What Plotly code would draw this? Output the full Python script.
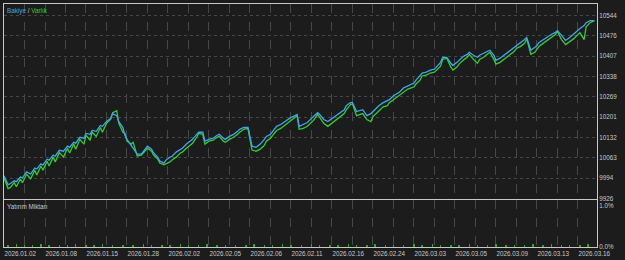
import plotly.graph_objects as go

# ---- data ----
deals = [0, 2, 3, 5, 6, 8, 9, 11, 13, 15, 16, 18, 19, 21, 22, 24, 25, 27, 29, 31, 32, 34, 35, 37, 39,
         40, 42, 43, 45, 47, 48, 50, 52, 53, 55,
         56, 58, 59, 60, 62, 63, 65, 67, 69, 70, 72, 73, 75, 76, 78,
         79, 81, 82, 84, 86, 87, 89, 91, 92, 94, 95, 97, 98,
         100, 102, 104, 105, 107, 108, 110, 112, 114, 115, 117, 119,
         120, 121, 123, 125, 127, 128, 130, 132, 133, 135, 137, 138, 140, 141, 143,
         144, 146, 148, 149, 151, 153, 154, 156, 158, 160, 162, 164, 166, 167, 169, 170,
         172, 175, 177, 179, 180, 182, 183, 185, 187, 188, 190, 192, 193, 195, 197, 200, 201, 203,
         204, 206, 208, 210, 211, 213, 214, 216,
         218, 219, 221, 222, 224, 226, 227, 229, 231, 232, 234, 236, 237,
         239, 240, 242, 244, 245, 247, 249, 250, 252, 254, 255,
         257, 259, 260, 261, 263, 265, 267, 269, 270,
         272, 274, 276, 278, 280, 281, 283, 284, 286, 288]

balance = [10003, 9973, 9976, 9986, 9983, 9999, 9996, 10016, 10009, 10029, 10026, 10043, 10039, 10059,
           10056, 10073, 10069, 10089, 10086, 10103, 10099, 10116, 10113, 10133, 10130, 10146, 10143,
           10156, 10153, 10173, 10170, 10186, 10196, 10213, 10206,
           10186, 10166, 10140, 10126, 10106, 10093, 10076, 10076, 10093, 10103, 10093, 10080, 10066,
           10053, 10046,
           10056, 10066, 10069, 10083, 10093, 10096, 10110, 10120, 10126, 10143, 10150, 10150, 10120,
           10126, 10130, 10140, 10143, 10130, 10126, 10136, 10143, 10153, 10160, 10166, 10166,
           10136, 10103, 10099, 10110, 10126, 10136, 10143, 10160, 10170, 10176, 10186, 10193, 10200,
           10203, 10210,
           10170, 10176, 10183, 10190, 10203, 10216, 10210, 10193, 10186, 10196, 10206, 10216, 10226,
           10240, 10250, 10250,
           10220, 10226, 10206, 10213, 10220, 10233, 10240, 10250, 10256, 10260, 10273, 10283, 10286,
           10300, 10306, 10316, 10326, 10340, 10350, 10353, 10360, 10363, 10370, 10386, 10403, 10403,
           10383, 10376, 10386, 10393, 10406, 10413, 10420, 10410, 10403, 10410, 10416, 10423, 10427,
           10410, 10393, 10400, 10410, 10416, 10427, 10437, 10443, 10453, 10463, 10470,
           10427, 10437, 10443, 10453, 10463, 10470, 10480, 10487, 10493,
           10477, 10460, 10470, 10483, 10493, 10500, 10510, 10520, 10527, 10527]

equity = [9996, 9960, 9963, 9980, 9966, 9992, 9980, 10008, 9993, 10022, 10006, 10036, 10022, 10052,
          10036, 10066, 10050, 10082, 10066, 10096, 10080, 10110, 10093, 10126, 10110, 10140, 10123,
          10150, 10136, 10166, 10150, 10180, 10193, 10216, 10223,
          10180, 10150, 10146, 10120, 10110, 10116, 10070, 10073, 10086, 10096, 10086, 10073, 10060,
          10046, 10040,
          10043, 10050, 10056, 10066, 10080, 10083, 10096, 10106, 10113, 10133, 10146, 10143, 10110,
          10120, 10123, 10133, 10136, 10120, 10116, 10126, 10133, 10143, 10150, 10160, 10163,
          10126, 10090, 10086, 10093, 10106, 10120, 10130, 10146, 10156, 10163, 10173, 10180, 10190,
          10196, 10206,
          10160, 10163, 10170, 10176, 10190, 10210, 10200, 10180, 10170, 10180, 10190, 10203, 10213,
          10226, 10243, 10246,
          10206, 10213, 10193, 10186, 10203, 10216, 10223, 10236, 10240, 10250, 10260, 10270, 10276,
          10286, 10296, 10303, 10313, 10326, 10340, 10343, 10350, 10353, 10360, 10373, 10396, 10400,
          10370, 10360, 10370, 10380, 10393, 10403, 10413, 10396, 10383, 10396, 10403, 10413, 10420,
          10396, 10380, 10386, 10396, 10403, 10413, 10423, 10433, 10440, 10450, 10466,
          10413, 10420, 10430, 10440, 10450, 10460, 10470, 10480, 10490,
          10463, 10446, 10456, 10466, 10480, 10486, 10463, 10506, 10520, 10527]

load_deals = [2, 6, 10, 14, 18, 22, 27, 31, 35, 40, 44, 48, 53, 58, 63, 68, 72, 77, 81, 86,
              90, 95, 99, 104, 108, 113, 118, 122, 127, 131, 136, 140, 145, 150, 154, 159, 163, 168,
              172, 177, 181, 186, 190, 195, 200, 204, 209, 213, 218, 222, 227, 231, 236, 240, 245,
              249, 254, 258, 263, 267, 272, 276, 281, 285]
load_pct = [0.05, 0.07, 0.04, 0.06, 0.08, 0.05, 0.06, 0.04, 0.07, 0.05,
            0.06, 0.08, 0.05, 0.04, 0.06, 0.07, 0.05, 0.06, 0.04, 0.08,
            0.05, 0.06, 0.07, 0.05, 0.04, 0.06, 0.05, 0.07, 0.06, 0.04,
            0.08, 0.05, 0.06, 0.07, 0.05, 0.04, 0.06, 0.08, 0.05, 0.06,
            0.07, 0.04, 0.05, 0.06, 0.08, 0.05, 0.07, 0.04, 0.06, 0.05,
            0.08, 0.06, 0.05, 0.07, 0.04, 0.06, 0.05, 0.07, 0.06, 0.08,
            0.05, 0.06, 0.04, 0.07]

date_labels = ["2026.01.02", "2026.01.08", "2026.01.15", "2026.01.28", "2026.02.02",
               "2026.02.05", "2026.02.06", "2026.02.11", "2026.02.16", "2026.02.24",
               "2026.03.03", "2026.03.05", "2026.03.09", "2026.03.13", "2026.03.16"]
label_step = 20
y_ticks = [9926 + 68.75 * k for k in range(10)]
y_labels = ["9926", "9994", "10063", "10132", "10201", "10269", "10338", "10407", "10476", "10544"]

assert len(deals) == len(balance) == len(equity)

# ---- style ----
BG = "#1c1c1c"
GRID = "#474747"
FRAME = "#c8c8c8"
TXT = "#c8c8c8"
BLUE = "#3ea6f0"
GREEN = "#2fcf2f"
FONT = "Liberation Sans"
FS = 6.3

x_max = 289.3
x_tickvals = list(range(0, 290, label_step // 2))
x_ticktext = []
for v in x_tickvals:
    if v % label_step == 0 and v // label_step < len(date_labels):
        x_ticktext.append(date_labels[v // label_step])
    else:
        x_ticktext.append("")

fig = go.Figure()
fig.add_trace(go.Scatter(x=deals, y=equity, mode="lines", line=dict(color=GREEN, width=1.3),
                         xaxis="x", yaxis="y", hoverinfo="skip"))
fig.add_trace(go.Scatter(x=deals, y=balance, mode="lines", line=dict(color=BLUE, width=1.3),
                         xaxis="x", yaxis="y", hoverinfo="skip"))
fig.add_trace(go.Bar(x=load_deals, y=load_pct, width=0.7, marker=dict(color="#2aa82a", line=dict(width=0)),
                     xaxis="x2", yaxis="y2", hoverinfo="skip"))

axis_common = dict(showline=True, mirror=True, linecolor=FRAME, linewidth=1, zeroline=False,
                   ticks="", tickfont=dict(family=FONT, size=FS, color=TXT))

fig.update_layout(
    width=625, height=260,
    margin=dict(l=4, r=28, t=3, b=11),
    paper_bgcolor=BG, plot_bgcolor=BG,
    showlegend=False,
    bargap=0,
    xaxis=dict(axis_common, range=[0, x_max], tickvals=x_tickvals, ticktext=x_ticktext,
               showticklabels=False, showgrid=True, gridcolor=GRID, griddash="dash", gridwidth=1,
               anchor="y"),
    yaxis=dict(axis_common, domain=[0.1992, 1.0], range=[9926, 10583], side="right",
               tickvals=y_ticks, ticktext=y_labels, showgrid=True, gridcolor=GRID,
               griddash="dot", gridwidth=1, anchor="x"),
    xaxis2=dict(axis_common, range=[0, x_max], tickvals=x_tickvals, ticktext=x_ticktext,
                showticklabels=True, ticklabelposition="outside right",
                showgrid=True, gridcolor=GRID, griddash="dash", gridwidth=1, anchor="y2",
                matches="x"),
    yaxis2=dict(axis_common, domain=[0.0, 0.1951], range=[0, 1.14], side="right",
                tickvals=[0, 1], ticktext=["0.0%", "1.0%"], showgrid=False, anchor="x2"),
    annotations=[
        dict(xref="paper", yref="paper", x=0.002, y=0.995, xanchor="left", yanchor="top",
             showarrow=False, align="left",
             text=f"<span style='color:{BLUE}'>Bakiye</span> / <span style='color:{GREEN}'>Varlık</span>",
             font=dict(family=FONT, size=FS, color=TXT)),
        dict(xref="paper", yref="paper", x=0.002, y=0.19, xanchor="left", yanchor="top",
             showarrow=False, align="left", text="Yatırım Miktarı",
             font=dict(family=FONT, size=FS, color=TXT)),
    ],
)

fig.write_html("out.html", config={"displayModeBar": False, "staticPlot": True})
